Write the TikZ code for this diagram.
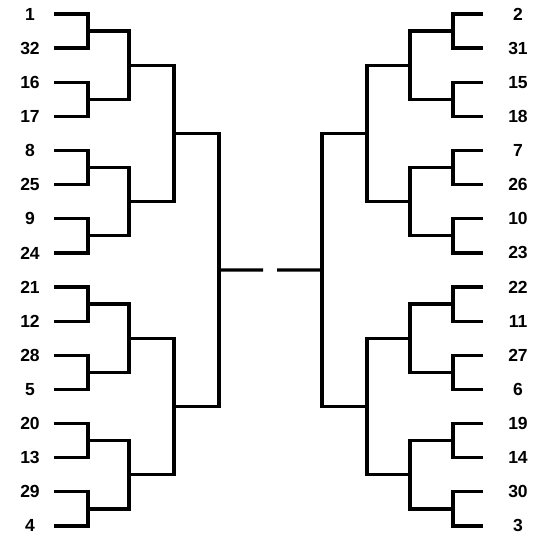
\documentclass[tikz,border=0pt]{standalone}
\usepackage{fontspec}
\setmainfont{Liberation Sans}

\tikzset{
  seed/.style={font=\bfseries\fontsize{17.5}{19}\selectfont, inner sep=0pt},
  bline/.style={line width=3.3pt},
}

\begin{document}
\begin{tikzpicture}[x=1pt, y=-1pt]
  \useasboundingbox (0,0) rectangle (550,548);

  % ---- Left half: seeds and first line ends ----
  \foreach \t [count=\i from 0] in {1,32,16,17,8,25,9,24,21,12,28,5,20,13,29,4} {
    \node[seed] (ls\i) at (30,{14+34.13*\i}) {\t};
    \coordinate (l1-\i) at (54,{14+34.13*\i});
  }

  % ---- Right half: seeds and first line ends ----
  \foreach \t [count=\i from 0] in {2,31,15,18,7,26,10,23,22,11,27,6,19,14,30,3} {
    \node[seed] (rs\i) at (518,{14+34.13*\i}) {\t};
    \coordinate (r1-\i) at (483,{14+34.13*\i});
  }

  % ---- Bracket joints, rounds 2 to 5 ----
  \foreach \n/\xl/\xr in {2/88/453, 3/129/410, 4/174/367, 5/219/322} {
    \pgfmathtruncatemacro\m{2^(5-\n)-1}
    \foreach \k in {0,...,\m} {
      \coordinate (l\n-\k) at (\xl,{14+34.13*(\k*2^(\n-1)+(2^(\n-1)-1)/2)});
      \coordinate (r\n-\k) at (\xr,{14+34.13*(\k*2^(\n-1)+(2^(\n-1)-1)/2)});
    }
  }

  % ---- Brackets ----
  \foreach \n in {1,...,4} {
    \pgfmathtruncatemacro\m{2^(4-\n)-1}
    \pgfmathtruncatemacro\p{\n+1}
    \foreach \k in {0,...,\m} {
      \pgfmathtruncatemacro\a{2*\k}
      \pgfmathtruncatemacro\b{2*\k+1}
      \draw[bline] (l\n-\a) -| (l\p-\k) |- (l\n-\b);
      \draw[bline] (r\n-\a) -| (r\p-\k) |- (r\n-\b);
    }
  }

  % ---- Final lines ----
  \coordinate (lend) at (263,270);
  \coordinate (rend) at (277,270);
  \draw[bline] (l5-0) -- (lend);
  \draw[bline] (r5-0) -- (rend);

\end{tikzpicture}
\end{document}
